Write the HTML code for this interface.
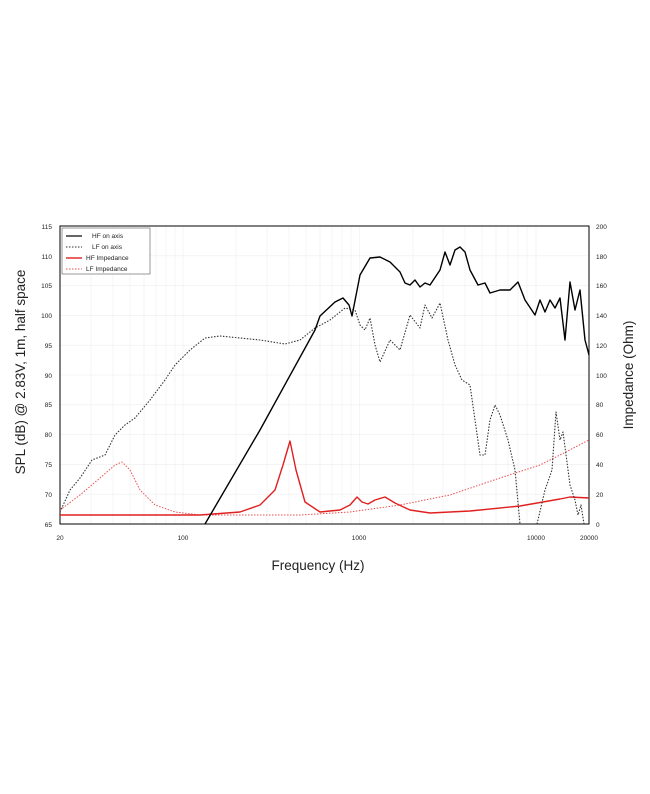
<!DOCTYPE html><html><head><style>body{margin:0;background:#fff}svg{display:block}</style></head><body>
<svg width="650" height="794" xmlns="http://www.w3.org/2000/svg" font-family="Liberation Sans, sans-serif">
<g stroke="#eee" stroke-width="0.6">
<line x1="60" x2="589" y1="255.8" y2="255.8"/><line x1="60" x2="589" y1="285.6" y2="285.6"/><line x1="60" x2="589" y1="315.4" y2="315.4"/><line x1="60" x2="589" y1="345.2" y2="345.2"/><line x1="60" x2="589" y1="375" y2="375"/><line x1="60" x2="589" y1="404.8" y2="404.8"/><line x1="60" x2="589" y1="434.6" y2="434.6"/><line x1="60" x2="589" y1="464.4" y2="464.4"/><line x1="60" x2="589" y1="494.2" y2="494.2"/>
<line x1="91" x2="91" y1="226" y2="524"/><line x1="113" x2="113" y1="226" y2="524"/><line x1="130" x2="130" y1="226" y2="524"/><line x1="144" x2="144" y1="226" y2="524"/><line x1="156" x2="156" y1="226" y2="524"/><line x1="166" x2="166" y1="226" y2="524"/><line x1="175" x2="175" y1="226" y2="524"/><line x1="183" x2="183" y1="226" y2="524"/>
<line x1="236" x2="236" y1="226" y2="524"/><line x1="267" x2="267" y1="226" y2="524"/><line x1="289" x2="289" y1="226" y2="524"/><line x1="306" x2="306" y1="226" y2="524"/><line x1="320" x2="320" y1="226" y2="524"/><line x1="332" x2="332" y1="226" y2="524"/><line x1="342" x2="342" y1="226" y2="524"/><line x1="351" x2="351" y1="226" y2="524"/><line x1="359.5" x2="359.5" y1="226" y2="524"/>
<line x1="413" x2="413" y1="226" y2="524"/><line x1="443" x2="443" y1="226" y2="524"/><line x1="465" x2="465" y1="226" y2="524"/><line x1="482" x2="482" y1="226" y2="524"/><line x1="496" x2="496" y1="226" y2="524"/><line x1="508" x2="508" y1="226" y2="524"/><line x1="518" x2="518" y1="226" y2="524"/><line x1="527" x2="527" y1="226" y2="524"/><line x1="536" x2="536" y1="226" y2="524"/>
</g>
<rect x="60" y="226" width="529" height="298" fill="none" stroke="#000" stroke-width="1"/>
<g font-size="6.5" fill="#222">
<g text-anchor="end"><text x="52" y="229">115</text><text x="52" y="259">110</text><text x="52" y="288">105</text><text x="52" y="318">100</text><text x="52" y="348">95</text><text x="52" y="378">90</text><text x="52" y="407">85</text><text x="52" y="437">80</text><text x="52" y="467">75</text><text x="52" y="497">70</text><text x="52" y="527">65</text></g>
<g><text x="596" y="229">200</text><text x="596" y="259">180</text><text x="596" y="288">160</text><text x="596" y="318">140</text><text x="596" y="348">120</text><text x="596" y="378">100</text><text x="596" y="407">80</text><text x="596" y="437">60</text><text x="596" y="467">40</text><text x="596" y="497">20</text><text x="596" y="527">0</text></g>
<g text-anchor="middle"><text x="60" y="540">20</text><text x="183" y="540">100</text><text x="359" y="540">1000</text><text x="536" y="540">10000</text><text x="589" y="540">20000</text></g>
</g>
<text x="318" y="570" font-size="13.5" text-anchor="middle" fill="#222">Frequency (Hz)</text>
<text transform="translate(25,372) rotate(-90)" font-size="13.5" text-anchor="middle" fill="#222">SPL (dB) @ 2.83V, 1m, half space</text>
<text transform="translate(633,375) rotate(-90)" font-size="13.5" text-anchor="middle" fill="#222">Impedance (Ohm)</text>
<g fill="none" stroke-linejoin="round">
<polyline stroke="#e8504f" stroke-width="1" stroke-dasharray="1.5,1.5" points="60,510 80,495 100,478 115,465 122,462 130,470 140,490 155,505 175,512 200,515 300,515 350,512 400,505 450,495 500,478 540,465 560,455 589,440"/>
<polyline stroke="#e02020" stroke-width="1.4" points="60,515 200,515 240,512 260,505 275,490 283,465 290,441 296,470 305,502 320,512 340,510 350,505 357,497 362,502 368,504 375,500 385,497 395,503 410,510 430,513 470,511 520,506 560,499 570,497 589,498"/>
<polyline stroke="#333" stroke-width="1.1" stroke-dasharray="1.5,1.5" points="60,512 70,490 80,478 92,460 105,455 115,435 125,425 135,418 150,400 165,380 175,365 190,350 205,338 220,336 240,338 260,340 285,344 300,340 315,328 330,320 345,308 355,310 360,325 365,330 370,318 375,345 380,362 390,340 400,350 410,315 420,328 425,305 432,318 440,303 448,340 455,365 462,380 470,385 480,455 485,455 490,420 495,405 500,415 508,440 515,470 520,524"/>
<polyline stroke="#333" stroke-width="1.1" stroke-dasharray="1.5,1.5" points="537,524 545,490 552,470 556,412 560,440 563,432 570,485 575,500 578,515 581,505 584,524"/>
<polyline stroke="#000" stroke-width="1.4" points="205,524 260,430 315,330 320,316 335,302 343,298 349,305 352,316 360,275 370,258 380,257 390,262 400,272 405,283 410,285 415,280 420,287 425,283 430,285 440,270 445,252 450,265 455,250 460,247 465,252 470,270 478,285 485,283 490,293 500,290 510,290 518,282 525,300 535,315 540,300 545,312 550,300 555,308 560,298 565,340 570,282 575,310 580,290 585,340 589,355"/>
</g>
<rect x="62" y="228" width="88" height="46" fill="#fff" stroke="#555" stroke-width="0.6"/>
<g font-size="6.5" fill="#222">
<line x1="66" x2="82" y1="236" y2="236" stroke="#000" stroke-width="1.2"/><text x="92" y="238">HF on axis</text>
<line x1="66" x2="82" y1="247" y2="247" stroke="#333" stroke-dasharray="1.5,1.5"/><text x="92" y="249">LF on axis</text>
<line x1="66" x2="82" y1="258" y2="258" stroke="#e02020" stroke-width="1.4"/><text x="86" y="260">HF Impedance</text>
<line x1="66" x2="82" y1="269" y2="269" stroke="#e8504f" stroke-dasharray="1.5,1.5"/><text x="86" y="271">LF Impedance</text>
</g>
</svg>
</body></html>
